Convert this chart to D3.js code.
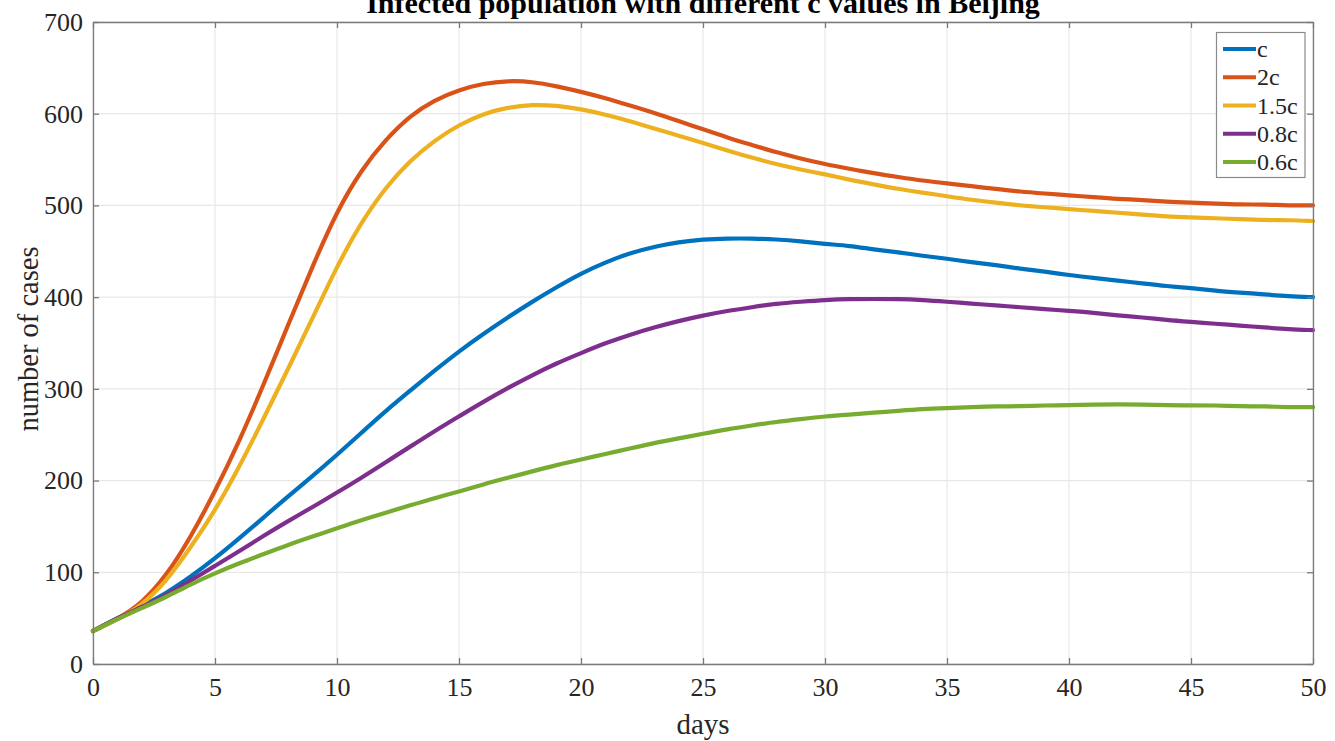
<!DOCTYPE html>
<html>
<head>
<meta charset="utf-8">
<script src="https://cdn.jsdelivr.net/npm/d3@7"></script>
<style>
  html, body { margin: 0; padding: 0; background: #fff; }
  svg { display: block; }
  text { font-family: "Liberation Serif", "Times New Roman", serif; }
</style>
</head>
<body>
<svg id="chart" width="1335" height="741"></svg>
<script>
// Simulated infected population in Beijing for different contact rates c
const days = d3.range(0, 51);

const seriesC = [36, 50, 63, 77, 95, 115, 137, 160, 183, 205, 228, 252, 276, 298, 320, 341, 360, 378, 395, 411,
  426, 438, 448, 455, 460, 463, 464, 464, 463, 461, 458, 456, 452, 449, 445, 442, 438, 435, 431, 428,
  424, 421, 418, 415, 412, 410, 407, 405, 403, 401, 400];

const series2C = [36, 49, 66, 96, 138, 188, 243, 305, 370, 434, 494, 539, 572, 598, 615, 626, 633, 636, 635, 630,
  624, 617, 609, 601, 592, 583, 574, 566, 558, 551, 545, 540, 535, 531, 527, 524, 521, 518, 515, 513,
  511, 509, 507, 506, 504, 503, 502, 501, 501, 500, 500];

const series15C = [36, 48, 64, 90, 127, 167, 215, 268, 322, 377, 434, 482, 520, 549, 571, 588, 600, 607, 610, 609,
  605, 599, 592, 584, 576, 568, 560, 552, 545, 539, 534, 528, 523, 518, 514, 510, 506, 503, 500, 498,
  496, 494, 492, 490, 488, 487, 486, 485, 484, 484, 483];

const series08C = [36, 50, 62, 75, 91, 107, 123, 140, 156, 171, 187, 203, 220, 237, 254, 270, 286, 301, 315, 328,
  339, 350, 359, 367, 374, 380, 385, 389, 393, 395, 397, 398, 398, 398, 397, 395, 393, 391, 389, 387,
  385, 383, 380, 378, 375, 373, 371, 369, 367, 365, 364];

const series06C = [36, 49, 61, 73, 87, 99, 110, 120, 130, 139, 148, 157, 165, 173, 181, 188, 196, 203, 210, 217,
  223, 229, 235, 241, 246, 251, 256, 260, 264, 267, 270, 272, 274, 276, 278, 279, 280, 281, 281, 282,
  282, 283, 283, 283, 282, 282, 282, 281, 281, 280, 280];

const seriesNames = ["c", "2c", "1.5c", "0.8c", "0.6c"];
const seriesColors = ["#0072BD", "#D95319", "#EDB120", "#7E2F8E", "#77AC30"];
const seriesValues = [seriesC, series2C, series15C, series08C, series06C];

const xTicks = [0, 5, 10, 15, 20, 25, 30, 35, 40, 45, 50];
const yTicks = [0, 100, 200, 300, 400, 500, 600, 700];

const titleText = "Infected population with different c values in Beijing";
const xLabel = "days";
const yLabel = "number of cases";

// Layout
const svg = d3.select("#chart");
const plotLeft = 93, plotRight = 1313, plotTop = 22, plotBottom = 664;

const x = d3.scaleLinear().domain([0, 50]).range([plotLeft, plotRight]);
const y = d3.scaleLinear().domain([0, 700]).range([plotBottom, plotTop]);

const axisColor = "#7a7a7a";
const textColor = "#262626";
const gridColor = "#e8e8e8";

// Grid
const grid = svg.append("g");
grid.selectAll("line.vx").data(xTicks).join("line")
  .attr("x1", d => x(d)).attr("x2", d => x(d))
  .attr("y1", plotTop).attr("y2", plotBottom)
  .attr("stroke", gridColor).attr("stroke-width", 1.2);
grid.selectAll("line.hy").data(yTicks).join("line")
  .attr("x1", plotLeft).attr("x2", plotRight)
  .attr("y1", d => y(d)).attr("y2", d => y(d))
  .attr("stroke", gridColor).attr("stroke-width", 1.2);

// Curves
const line = d3.line()
  .x((d, i) => x(days[i]))
  .y(d => y(d))
  .curve(d3.curveBasis);

svg.append("g").selectAll("path").data(seriesValues).join("path")
  .attr("d", d => line(d))
  .attr("fill", "none")
  .attr("stroke", (d, i) => seriesColors[i])
  .attr("stroke-width", 4.2)
  .attr("stroke-linejoin", "round")
  .attr("stroke-linecap", "round");

// Axes with inward ticks, boxed
const tickLen = 6;
const fontSize = 26;

const xAxisB = d3.axisBottom(x).tickValues(xTicks).tickSizeInner(-tickLen).tickSizeOuter(0).tickPadding(14);
const xAxisT = d3.axisTop(x).tickValues(xTicks).tickSizeInner(-tickLen).tickSizeOuter(0).tickFormat("");
const yAxisL = d3.axisLeft(y).tickValues(yTicks).tickSizeInner(-tickLen).tickSizeOuter(0).tickPadding(10);
const yAxisR = d3.axisRight(y).tickValues(yTicks).tickSizeInner(-tickLen).tickSizeOuter(0).tickFormat("");

function styleAxis(g) {
  g.select(".domain").attr("stroke", axisColor).attr("stroke-width", 1.3);
  g.selectAll(".tick line").attr("stroke", axisColor).attr("stroke-width", 1.3);
  g.selectAll(".tick text")
    .attr("fill", textColor)
    .style("font-family", "'Liberation Serif', 'Times New Roman', serif")
    .style("font-size", fontSize + "px");
}

svg.append("g").attr("transform", `translate(0,${plotBottom})`).call(xAxisB).call(styleAxis);
svg.append("g").attr("transform", `translate(0,${plotTop})`).call(xAxisT).call(styleAxis);
svg.append("g").attr("transform", `translate(${plotLeft},0)`).call(yAxisL).call(styleAxis);
svg.append("g").attr("transform", `translate(${plotRight},0)`).call(yAxisR).call(styleAxis);

// Title (partly above the top edge of the page)
svg.append("text")
  .attr("x", 703)
  .attr("y", 13)
  .attr("text-anchor", "middle")
  .attr("fill", "#000")
  .style("font-weight", "bold")
  .style("font-size", "30px")
  .text(titleText);

// Axis labels
svg.append("text")
  .attr("x", 703)
  .attr("y", 734)
  .attr("text-anchor", "middle")
  .attr("fill", textColor)
  .style("font-size", "29px")
  .text(xLabel);

svg.append("text")
  .attr("transform", `translate(38,339) rotate(-90)`)
  .attr("text-anchor", "middle")
  .attr("fill", textColor)
  .style("font-size", "28.5px")
  .text(yLabel);

// Legend
const legX = 1216.5, legY = 32.5, legW = 88.5, legH = 145;
const legend = svg.append("g");
legend.append("rect")
  .attr("x", legX).attr("y", legY).attr("width", legW).attr("height", legH)
  .attr("fill", "#fff").attr("stroke", "#8a8a8a").attr("stroke-width", 1.2);

const rowY = d3.scalePoint().domain(seriesNames).range([49, 162]);
const rows = legend.selectAll("g.row").data(seriesNames).join("g")
  .attr("transform", d => `translate(0,${rowY(d)})`);
rows.append("line")
  .attr("x1", 1223).attr("x2", 1256)
  .attr("y1", 0).attr("y2", 0)
  .attr("stroke", (d, i) => seriesColors[i])
  .attr("stroke-width", 4.2);
rows.append("text")
  .attr("x", 1257)
  .attr("y", 8)
  .attr("fill", textColor)
  .style("font-size", "24px")
  .text(d => d);
</script>
</body>
</html>
